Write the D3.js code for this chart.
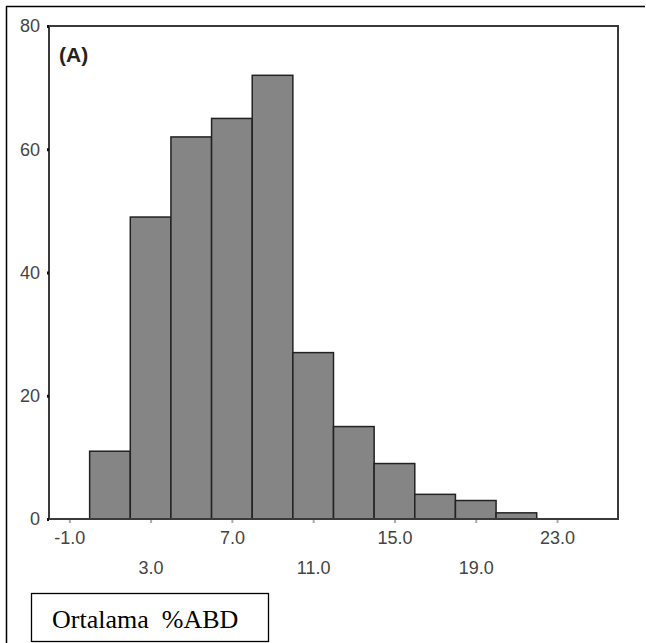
<!DOCTYPE html>
<html>
<head>
<meta charset="utf-8">
<script src="https://cdn.jsdelivr.net/npm/d3@7"></script>
<style>
  body { margin: 0; background: #fff; }
  svg { display: block; }
</style>
</head>
<body>
<div id="chart"></div>
<script>
// histogram bins (left edge) and counts
var binStarts = [0, 2, 4, 6, 8, 10, 12, 14, 16, 18, 20];
var binWidth = 2;
var counts = [11, 49, 62, 65, 72, 27, 15, 9, 4, 3, 1];
var xTicks = [-1, 3, 7, 11, 15, 19, 23];
var yTicks = [0, 20, 40, 60, 80];

var width = 646, height = 643;

var svg = d3.select("#chart")
    .append("svg")
    .attr("width", width)
    .attr("height", height);

// outer frame (only top and left edges visible)
svg.append("line").attr("x1", 6).attr("y1", 6.5).attr("x2", 645).attr("y2", 6.5)
    .attr("stroke", "#000").attr("stroke-width", 1.5);
svg.append("line").attr("x1", 6.5).attr("y1", 6).attr("x2", 6.5).attr("y2", 643)
    .attr("stroke", "#000").attr("stroke-width", 1.5);

var x = d3.scaleLinear().domain([-2, 26]).range([49, 618]);
var y = d3.scaleLinear().domain([0, 80]).range([519, 26]);

// bars
svg.selectAll("rect.bar")
    .data(counts)
    .enter().append("rect")
    .attr("class", "bar")
    .attr("x", function(d, i) { return x(binStarts[i]); })
    .attr("width", function(d, i) { return x(binStarts[i] + binWidth) - x(binStarts[i]); })
    .attr("y", function(d) { return y(d); })
    .attr("height", function(d) { return y(0) - y(d); })
    .attr("fill", "#858585")
    .attr("stroke", "#222")
    .attr("stroke-width", 1.5);

// plot frame
svg.append("rect")
    .attr("x", x(-2)).attr("y", y(80))
    .attr("width", x(26) - x(-2)).attr("height", y(0) - y(80))
    .attr("fill", "none")
    .attr("stroke", "#3a3a3a")
    .attr("stroke-width", 2);

// y axis ticks + labels
var yAxis = d3.axisLeft(y).tickValues(yTicks).tickSize(2).tickPadding(7)
    .tickFormat(function(d) { return String(d); });
var gy = svg.append("g").attr("transform", "translate(" + x(-2) + ",0)").call(yAxis);
gy.select(".domain").remove();
gy.selectAll(".tick line").attr("stroke", "#111").attr("stroke-width", 3);
gy.selectAll(".tick text")
    .attr("font-family", "Liberation Sans, Arial, sans-serif")
    .attr("font-size", 18)
    .attr("fill", "#444");

// x axis ticks + staggered labels
var xAxis = d3.axisBottom(x).tickValues(xTicks).tickSize(3)
    .tickFormat(function(d) { return d.toFixed(1); });
var gx = svg.append("g").attr("transform", "translate(0," + (y(0) + 1) + ")").call(xAxis);
gx.select(".domain").remove();
gx.selectAll(".tick line").attr("stroke", "#aaa").attr("stroke-width", 2);
gx.selectAll(".tick text")
    .attr("font-family", "Liberation Sans, Arial, sans-serif")
    .attr("font-size", 18)
    .attr("fill", "#444")
    .attr("dy", null)
    .attr("y", function(d, i) { return i % 2 === 0 ? 24 : 54; });

// panel label
svg.append("text")
    .attr("x", 59).attr("y", 62)
    .attr("font-family", "Liberation Sans, Arial, sans-serif")
    .attr("font-weight", "bold")
    .attr("font-size", 21)
    .attr("fill", "#222")
    .text("(A)");

// caption box
svg.append("rect")
    .attr("x", 31.5).attr("y", 593.5)
    .attr("width", 237).attr("height", 48)
    .attr("fill", "#fff").attr("stroke", "#000").attr("stroke-width", 1.3);
svg.append("text")
    .attr("x", 52).attr("y", 628)
    .attr("font-family", "Liberation Serif, Times New Roman, serif")
    .attr("font-size", 26)
    .attr("fill", "#000")
    .attr("xml:space", "preserve")
    .style("white-space", "pre")
    .text("Ortalama  %ABD");
</script>
</body>
</html>
